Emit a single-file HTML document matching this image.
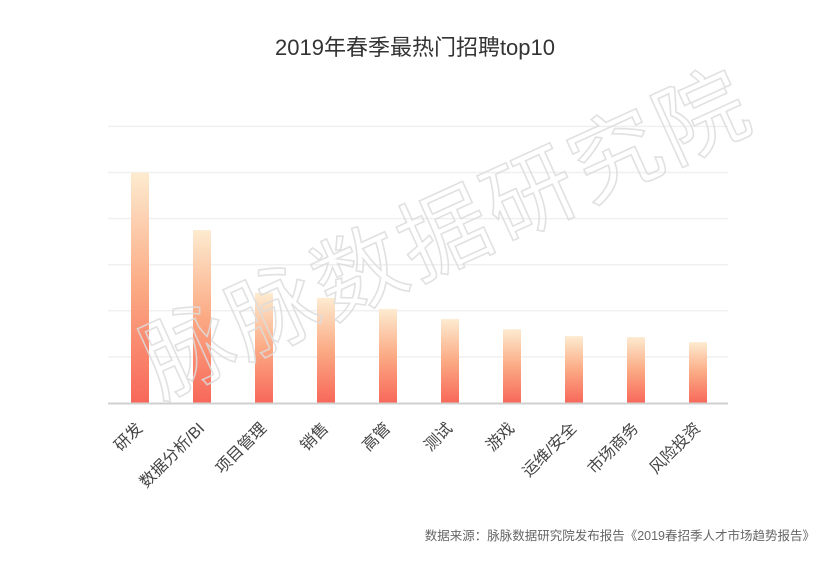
<!DOCTYPE html>
<html><head><meta charset="utf-8">
<style>
body{margin:0;background:#fff;}
svg text{font-family:"Liberation Sans","Noto Sans CJK SC",sans-serif;}
</style></head>
<body>
<svg id="chart" width="828" height="557" viewBox="0 0 828 557" xmlns="http://www.w3.org/2000/svg">
<defs>
<linearGradient id="barGrad" x1="0" y1="0" x2="0" y2="1">
<stop offset="0" stop-color="#fdebd0"/>
<stop offset="0.5" stop-color="#fbaa84"/>
<stop offset="1" stop-color="#f8685a"/>
</linearGradient>
</defs>
<text x="415" y="55" text-anchor="middle" font-size="22" fill="#333">2019年春季最热门招聘top10</text>
<g id="grid"></g>
<g id="bars"></g>
<line x1="108" y1="403.5" x2="728" y2="403.5" stroke="#d0d0d0" stroke-width="2"/>
<g id="labels"></g>
<text transform="translate(160,398) rotate(-24.5)" font-size="90" fill="none" stroke="#dcdcdc" stroke-width="1.6" opacity="0.85" letter-spacing="4">脉脉数据研究院</text>
<text x="815" y="540" text-anchor="end" font-size="12.5" fill="#666">数据来源：脉脉数据研究院发布报告《2019春招季人才市场趋势报告》</text>
</svg>
<script>
const categories = ["研发","数据分析/BI","项目管理","销售","高管","测试","游戏","运维/安全","市场商务","风险投资"];
const values = [5.0, 3.75, 2.39, 2.28, 2.04, 1.82, 1.6, 1.45, 1.43, 1.32];
const gridTicks = [1,2,3,4,5,6];

const NS = "http://www.w3.org/2000/svg";
const x0 = 109, step = 62, baseY = 403, unit = 46.1, barW = 18;
function xScale(i){ return x0 + step*(i+0.5); }
function yScale(v){ return baseY - v*unit; }

const grid = document.getElementById('grid');
gridTicks.forEach(t=>{
  const l = document.createElementNS(NS,'line');
  
  
  l.setAttribute('x1',108); l.setAttribute('x2',728);
  l.setAttribute('y1',yScale(t)); l.setAttribute('y2',yScale(t));
  l.setAttribute('stroke','#f0f0f0'); l.setAttribute('stroke-width','1.5');
  grid.appendChild(l);
});

const bars = document.getElementById('bars');
const labels = document.getElementById('labels');
values.forEach((v,i)=>{
  const r = document.createElementNS(NS,'rect');
  
  
  r.setAttribute('x', xScale(i)-barW/2);
  r.setAttribute('y', yScale(v));
  r.setAttribute('width', barW);
  r.setAttribute('height', baseY - yScale(v));
  r.setAttribute('fill','url(#barGrad)');
  bars.appendChild(r);

  const t = document.createElementNS(NS,'text');
  
  
  const cx = xScale(i)-4, cy = 422;
  t.setAttribute('transform','translate('+cx+','+cy+') rotate(-45)');
  t.setAttribute('text-anchor','end');
  t.setAttribute('font-size','16');
  t.setAttribute('fill','#444');
  t.setAttribute('dominant-baseline','hanging');
  t.textContent = categories[i];
  labels.appendChild(t);
});
</script>
</body></html>
